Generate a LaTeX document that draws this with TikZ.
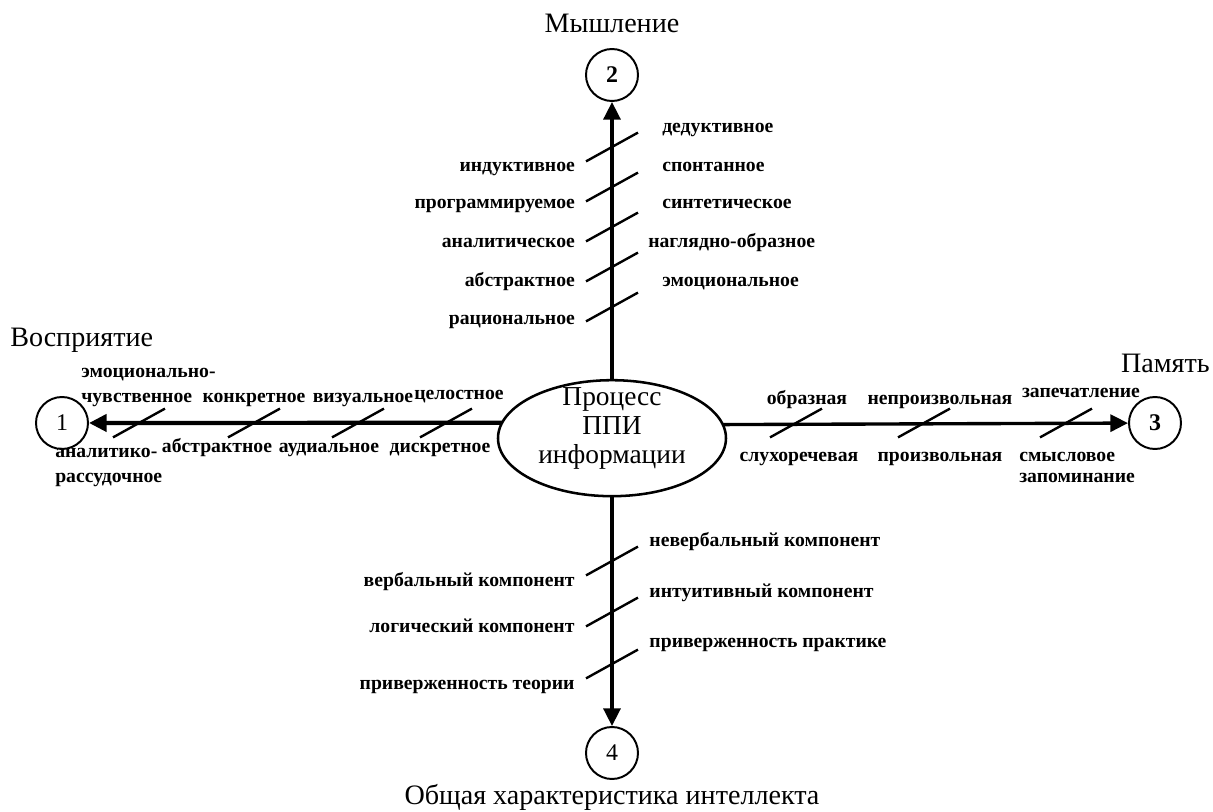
\documentclass[tikz,border=0pt]{standalone}
\usepackage{fontspec}
\setmainfont{Liberation Serif}
\usepackage{tikz}
\usetikzlibrary{arrows.meta, shapes.geometric}
\tikzset{
    %Define standard arrow tip
    >={Triangle[length=12.5pt, width=12pt]},
}

\begin{document}
\begin{tikzpicture}[
    num/.style  = {circle, draw, line width=1.4pt, minimum size=1.3cm,
                   inner sep=0pt, font=\fontsize{17}{20}\selectfont},
    lbl/.style  = {inner sep=0pt, text height=1.5ex, text depth=.25ex,
                   font=\bfseries\fontsize{14}{17}\selectfont},
    ttl/.style  = {inner sep=0pt, font=\fontsize{20}{23}\selectfont},
    axis/.style = {->, line width=2.4pt},
    tk/.style   = {line width=1.7pt},
  ]
  \useasboundingbox (-15.3,-9.725) rectangle (15.025,10.575);

  % hub
  \node[ellipse, draw, line width=1.8pt, minimum width=5.7cm, minimum height=2.9cm,
        inner sep=0pt, outer sep=0pt] (ppi) at (0,-0.38) {};
  \node[align=center, font=\fontsize{19.5}{20.4}\selectfont] (ppitext) at (0,-0.14)
       {Процесс\\ППИ\\информации};

  % the four ends
  \node[num] (c1) at (-13.75,0) {1};
  \node[num, font=\bfseries\fontsize{17}{20}\selectfont] (c2) at (0,8.7) {2};
  \node[num, font=\bfseries\fontsize{17}{20}\selectfont] (c3) at (13.575,0) {3};
  \node[num] (c4) at (0,-8.25) {4};

  \node[ttl, anchor=west] (vospr) at (-15.05,2.075) {Восприятие};
  \node[ttl] (mysh) at (0,10.0) {Мышление};
  \node[ttl, anchor=east] (pamyat) at (14.95,1.5) {Память};
  \node[ttl] (intel) at (0,-9.35) {Общая характеристика интеллекта};

  \draw[axis, line width=3pt] (ppi.172.13) -- (c1);
  \draw[axis] (ppi.north) -- (c2);
  \draw[axis] (ppi.7.87) -- (c3);
  \draw[axis] (ppi.south) -- (c4);

  % slashes across the axes
  \foreach \y in {6.9,5.9,4.9,3.9,2.9}
    \draw[tk, shift={(0,\y)}] (-0.65,-0.36) -- (0.65,0.36);
  \foreach \y in {-3.45,-4.725,-6.025}
    \draw[tk, shift={(0,\y)}] (-0.65,-0.36) -- (0.65,0.36);
  \foreach \x in {-11.825,-8.95,-6.35,-4.15,4.6,7.8,11.35}
    \draw[tk, shift={(\x,0)}] (-0.65,-0.36) -- (0.65,0.36);

  % thinking
  \node[lbl, anchor=west] (deduct) at (1.25,7.375) {дедуктивное};
  \node[lbl, anchor=west] (spont) at (1.25,6.4) {спонтанное};
  \node[lbl, anchor=west] (sint) at (1.25,5.475) {синтетическое};
  \node[lbl, anchor=west] (nagl) at (0.9,4.5) {наглядно-образное};
  \node[lbl, anchor=west] (emoc) at (1.25,3.525) {эмоциональное};
  \node[lbl, anchor=east] (indukt) at (-0.92,6.4) {индуктивное};
  \node[lbl, anchor=east] (progr) at (-0.92,5.475) {программируемое};
  \node[lbl, anchor=east] (anal) at (-0.92,4.5) {аналитическое};
  \node[lbl, anchor=east] (abstr) at (-0.92,3.525) {абстрактное};
  \node[lbl, anchor=east] (racion) at (-0.92,2.575) {рациональное};

  % intellect
  \node[lbl, anchor=west] (neverb) at (0.93,-2.975) {невербальный компонент};
  \node[lbl, anchor=west] (intuit) at (0.93,-4.25) {интуитивный компонент};
  \node[lbl, anchor=west] (prakt) at (0.93,-5.5) {приверженность практике};
  \node[lbl, anchor=east] (verb) at (-0.93,-3.975) {вербальный компонент};
  \node[lbl, anchor=east] (logic) at (-0.93,-5.125) {логический компонент};
  \node[lbl, anchor=east] (teor) at (-0.93,-6.55) {приверженность теории};

  % perception
  \node[lbl, anchor=west] (emoc1) at (-13.275,1.25) {эмоционально-};
  \node[lbl, anchor=west] (chuvst) at (-13.275,0.625) {чувственное};
  \node[lbl] (konkr) at (-8.95,0.625) {конкретное};
  \node[lbl] (vizual) at (-6.225,0.625) {визуальное};
  \node[lbl] (celost) at (-3.825,0.7) {целостное};
  \node[lbl, anchor=west] (anal1) at (-13.925,-0.75) {аналитико-};
  \node[lbl, anchor=west] (rassud) at (-13.925,-1.375) {рассудочное};
  \node[lbl] (abstrv) at (-9.875,-0.625) {абстрактное};
  \node[lbl] (audial) at (-7.075,-0.625) {аудиальное};
  \node[lbl] (diskr) at (-4.3,-0.625) {дискретное};

  % memory
  \node[lbl] (obrazn) at (4.875,0.575) {образная};
  \node[lbl] (neproizv) at (8.2,0.575) {непроизвольная};
  \node[lbl] (zapech) at (11.725,0.75) {запечатление};
  \node[lbl] (sluh) at (4.675,-0.85) {слухоречевая};
  \node[lbl] (proizv) at (8.2,-0.85) {произвольная};
  \node[lbl, anchor=west] (smysl) at (10.175,-0.85) {смысловое};
  \node[lbl, anchor=west] (zapom) at (10.175,-1.375) {запоминание};
\end{tikzpicture}
\end{document}
